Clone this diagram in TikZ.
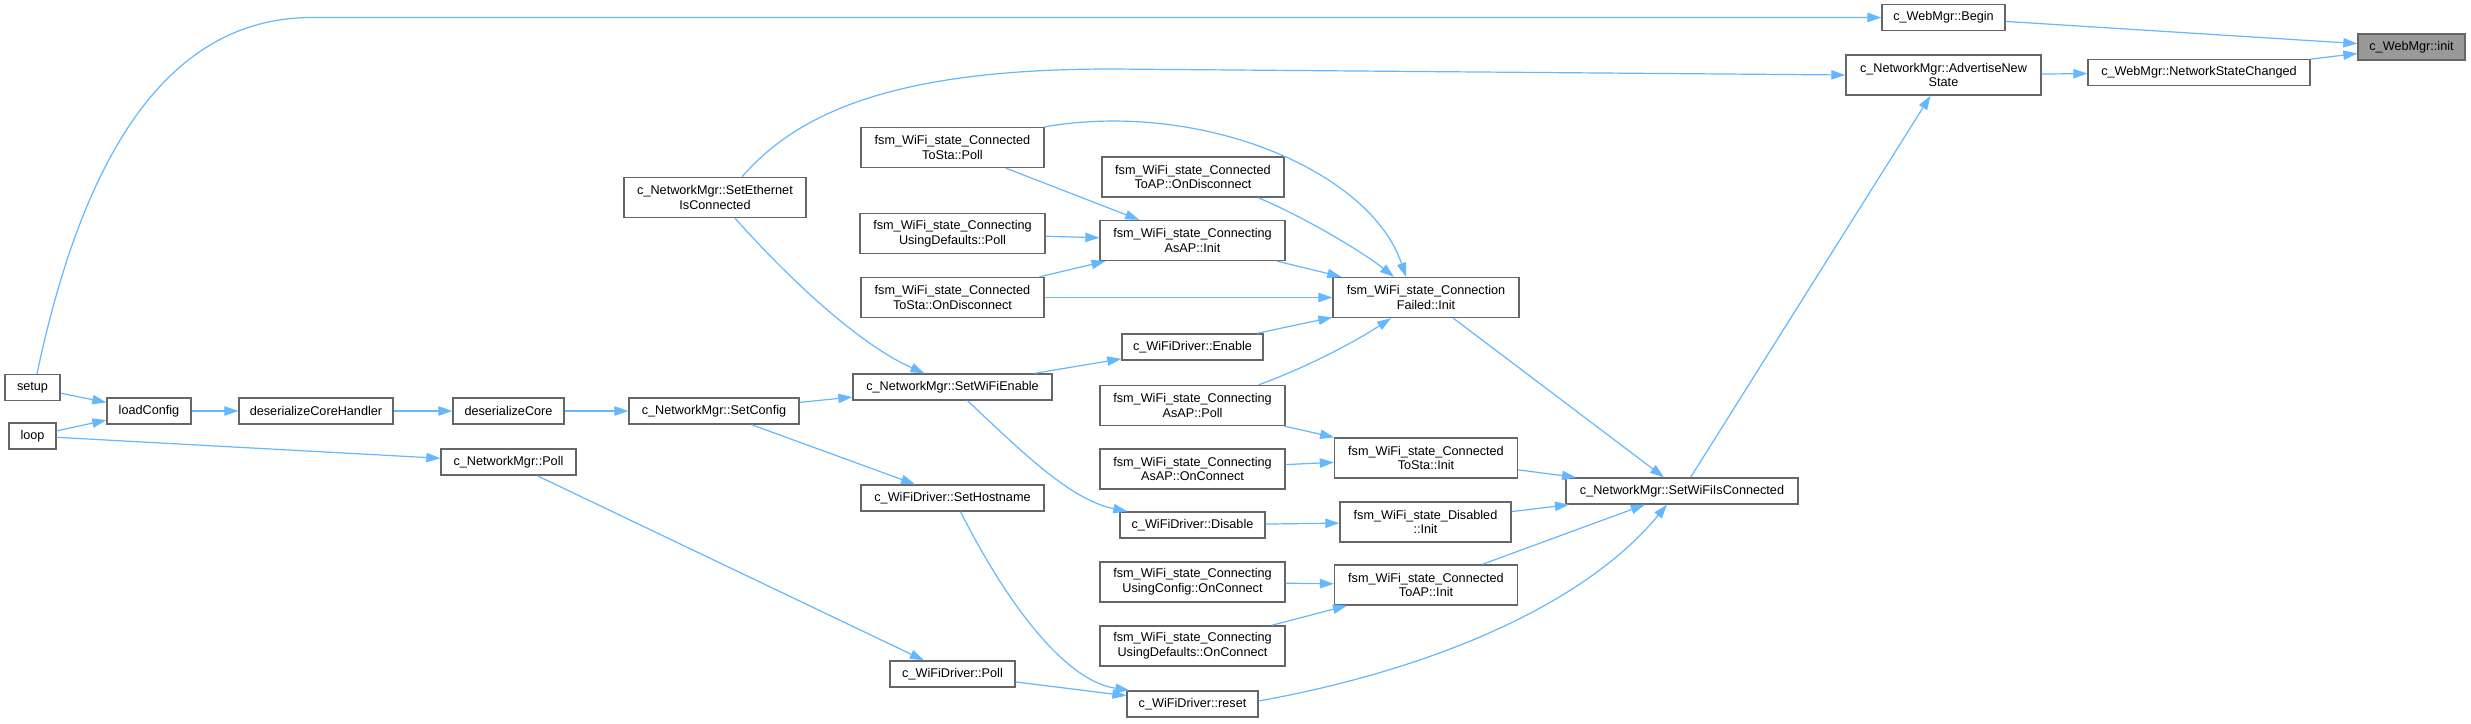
\documentclass[tikz,border=0pt]{standalone}
\usepackage{fontspec}
\setmainfont{Liberation Sans}
\usetikzlibrary{arrows.meta,calc}
\definecolor{edgeblue}{HTML}{63B8FF}
\definecolor{boxgray}{HTML}{666666}
\definecolor{initgray}{HTML}{999999}
\tikzset{
  fn/.style={draw=boxgray, line width=1pt, fill=white, inner sep=0pt, align=center,
    font=\fontsize{9.5}{11.1}\selectfont, minimum height=26*0.75pt},
  two/.style={minimum height=40*0.75pt},
  bw/.style={minimum width=#1*0.75pt},
  edge/.style={draw=edgeblue, line width=0.9pt, -{Triangle[length=10.5pt,width=7pt]}}
}
\begin{document}
\begin{tikzpicture}[x=0.75pt,y=-0.75pt]
\fill[white] (0,0) rectangle (2471,724);
\useasboundingbox (0,0) rectangle (2471,724);

% nodes
\node[fn,bw=107,fill=initgray] (init) at (2411.5,47) {c\_WebMgr::init};
\node[fn,bw=123] (begin) at (1943.5,17.5) {c\_WebMgr::Begin};
\node[fn,bw=222] (nsc) at (2199,72.5) {c\_WebMgr::NetworkStateChanged};
\node[fn,two,bw=195] (adv) at (1943.5,75) {c\_NetworkMgr::AdvertiseNew\\State};
\node[fn,two,bw=182] (eth) at (715,197.5) {c\_NetworkMgr::SetEthernet\\IsConnected};
\node[fn,bw=55] (setup) at (32.5,387.5) {setup};
\node[fn,bw=47] (loop) at (32.5,436) {loop};
\node[fn,bw=84] (loadcfg) at (149,411) {loadConfig};
\node[fn,bw=154] (dch) at (316,411) {deserializeCoreHandler};
\node[fn,bw=111] (dcore) at (508.5,411) {deserializeCore};
\node[fn,bw=170] (setcfg) at (714,411) {c\_NetworkMgr::SetConfig};
\node[fn,bw=135] (nmpoll) at (508.5,462) {c\_NetworkMgr::Poll};
\node[fn,two,bw=183] (tspoll) at (952.5,147.5) {fsm\_WiFi\_state\_Connected\\ToSta::Poll};
\node[fn,two,bw=185] (udpoll) at (952.5,233.5) {fsm\_WiFi\_state\_Connecting\\UsingDefaults::Poll};
\node[fn,two,bw=183] (tsdisc) at (952.5,297.5) {fsm\_WiFi\_state\_Connected\\ToSta::OnDisconnect};
\node[fn,bw=199] (wifien) at (952.5,387) {c\_NetworkMgr::SetWiFiEnable};
\node[fn,bw=183] (sethost) at (952.5,498) {c\_WiFiDriver::SetHostname};
\node[fn,bw=125] (wdpoll) at (952.5,674) {c\_WiFiDriver::Poll};
\node[fn,two,bw=182] (apdisc) at (1193,177) {fsm\_WiFi\_state\_Connected\\ToAP::OnDisconnect};
\node[fn,two,bw=185] (apinit) at (1192.5,240.5) {fsm\_WiFi\_state\_Connecting\\AsAP::Init};
\node[fn,bw=141] (enable) at (1192.5,347) {c\_WiFiDriver::Enable};
\node[fn,two,bw=185] (appoll) at (1192.5,405.5) {fsm\_WiFi\_state\_Connecting\\AsAP::Poll};
\node[fn,two,bw=185] (apconn) at (1192.5,469) {fsm\_WiFi\_state\_Connecting\\AsAP::OnConnect};
\node[fn,bw=145] (disable) at (1192.5,525) {c\_WiFiDriver::Disable};
\node[fn,two,bw=185] (ucconn) at (1192.5,582) {fsm\_WiFi\_state\_Connecting\\UsingConfig::OnConnect};
\node[fn,two,bw=185] (udconn) at (1192.5,646) {fsm\_WiFi\_state\_Connecting\\UsingDefaults::OnConnect};
\node[fn,bw=131] (reset) at (1192.5,704) {c\_WiFiDriver::reset};
\node[fn,two,bw=186] (cfinit) at (1426,297.5) {fsm\_WiFi\_state\_Connection\\Failed::Init};
\node[fn,two,bw=183] (tsinit) at (1426,458) {fsm\_WiFi\_state\_Connected\\ToSta::Init};
\node[fn,two,bw=171] (disinit) at (1425.5,522) {fsm\_WiFi\_state\_Disabled\\::Init};
\node[fn,two,bw=183] (tapinit) at (1426,585) {fsm\_WiFi\_state\_Connected\\ToAP::Init};
\node[fn,bw=232] (swic) at (1682,491) {c\_NetworkMgr::SetWiFiIsConnected};

% edges
\draw[edge] (begin) -- (init);
\draw[edge] (nsc) -- (init);
\draw[edge] (adv) -- (nsc);
\draw[edge] ($(setup.north)+(4.5,0)$) .. controls (80,170) and (160,17.5) .. (312,17.5) -- (begin.west);
\draw[edge] ($(eth.north)+(27,0)$) .. controls (800,110) and (900,69) .. (1111,69) -- (adv.west);
\draw[edge] (swic) -- (adv);
\draw[edge] (setup) -- (loadcfg);
\draw[edge] (loop) -- (loadcfg);
\draw[edge] (loop) -- (nmpoll);
\draw[edge] (loadcfg) -- (dch);
\draw[edge] (dch) -- (dcore);
\draw[edge] (dcore) -- (setcfg);
\draw[edge] (setcfg) -- (wifien);
\draw[edge] (setcfg) -- (sethost);
\draw[edge] ($(eth.south)+(20,0)$) .. controls (790,280) and (860,345) .. ($(wifien.north)+(-28,0)$);
\draw[edge] (nmpoll) -- (wdpoll);
\draw[edge] (wifien) -- (enable);
\draw[edge] ($(wifien.south)+(15,0)$) .. controls (1020,450) and (1070,500) .. ($(disable.north west)+(8,0)$);
\draw[edge] ($(sethost.south)+(8,0)$) .. controls (1000,590) and (1060,680) .. ($(reset.north west)+(3,0)$);
\draw[edge] (wdpoll) -- (reset);
\draw[edge] ($(reset.east)+(0,-3)$) .. controls (1420,672) and (1580,610) .. ($(swic.south)+(-15,0)$);
\draw[edge] (enable) -- (cfinit);
\draw[edge] (tspoll) -- (apinit);
\draw[edge] (tspoll.north east) .. controls (1200,100) and (1370,170) .. ($(cfinit.north)+(-20,0)$);
\draw[edge] (udpoll) -- (apinit);
\draw[edge] (tsdisc) -- (apinit);
\draw[edge] (tsdisc) -- (cfinit);
\draw[edge] ($(apdisc.south)+(65,0)$) .. controls (1300,215) and (1360,250) .. ($(cfinit.north)+(-32,0)$);
\draw[edge] (apinit) -- (cfinit);
\draw[edge] ($(appoll.north)+(66,0)$) .. controls (1300,370) and (1350,345) .. ($(cfinit.south)+(-35,0)$);
\draw[edge] (appoll) -- (tsinit);
\draw[edge] (apconn) -- (tsinit);
\draw[edge] (disable) -- (disinit);
\draw[edge] (ucconn) -- (tapinit);
\draw[edge] (udconn) -- (tapinit);
\draw[edge] (cfinit) -- (swic);
\draw[edge] (tsinit) -- (swic);
\draw[edge] (disinit) -- (swic);
\draw[edge] (tapinit) -- (swic);
\end{tikzpicture}
\end{document}
